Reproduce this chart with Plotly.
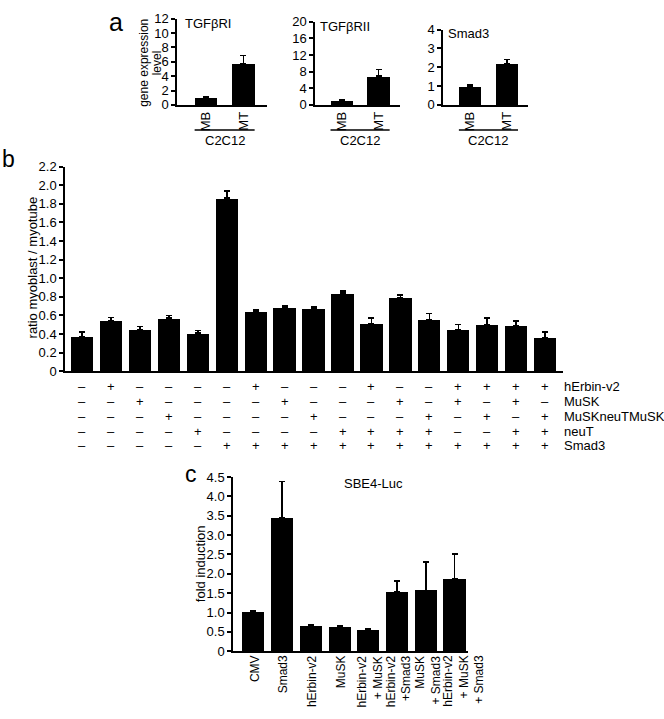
import plotly.graph_objects as go

W, H = 664, 719
FONT = "Arial, Liberation Sans, Helvetica, sans-serif"

# ---------------- data ----------------
# panel a
a_cats = ["MB", "MT"]
a1_vals = [1.0, 5.75]
a1_err = [0.1, 1.1]
a2_vals = [1.1, 6.9]
a2_err = [0.2, 1.6]
a3_vals = [1.0, 2.17]
a3_err = [0.05, 0.24]
a_titles = ["TGF\u03b2RI", "TGF\u03b2RII", "Smad3"]
a1_ticks = [0, 2, 4, 6, 8, 10, 12]
a2_ticks = [0, 4, 8, 12, 16, 20]
a3_ticks = [0, 1, 2, 3, 4]
a_group = "C2C12"

# panel b
b_vals = [0.37, 0.54, 0.45, 0.57, 0.41, 1.86, 0.64, 0.68, 0.67, 0.84,
          0.51, 0.79, 0.55, 0.45, 0.50, 0.49, 0.36]
b_err = [0.05, 0.04, 0.03, 0.03, 0.03, 0.08, 0.02, 0.02, 0.02, 0.02,
         0.06, 0.03, 0.07, 0.05, 0.07, 0.05, 0.06]
b_ticks = [0, 0.2, 0.4, 0.6, 0.8, 1.0, 1.2, 1.4, 1.6, 1.8, 2.0, 2.2]
b_ticktext = ["0", "0.2", "0.4", "0.6", "0.8", "1.0", "1.2", "1.4", "1.6",
              "1.8", "2.0", "2.2"]
b_rows = ["hErbin-v2", "MuSK", "MuSKneuTMuSK", "neuT", "Smad3"]
b_table = [
    [0, 1, 0, 0, 0, 0, 1, 0, 0, 0, 1, 0, 0, 1, 1, 1, 1],
    [0, 0, 1, 0, 0, 0, 0, 1, 0, 0, 0, 1, 0, 1, 0, 1, 0],
    [0, 0, 0, 1, 0, 0, 0, 0, 1, 0, 0, 0, 1, 0, 1, 0, 1],
    [0, 0, 0, 0, 1, 0, 0, 0, 0, 1, 1, 1, 1, 0, 0, 1, 1],
    [0, 0, 0, 0, 0, 1, 1, 1, 1, 1, 1, 1, 1, 1, 1, 1, 1],
]

# panel c
c_cats = ["CMV", "Smad3", "hErbin-v2", "MuSK", "hErbin-v2<br>+ MuSK",
          "hErbin-v2<br>+Smad3", "MuSK<br>+ Smad3",
          "hErbin-v2<br>+ MuSK<br>+ Smad3"]
c_vals = [1.01, 3.45, 0.66, 0.63, 0.56, 1.54, 1.57, 1.87]
c_err = [0.03, 0.93, 0.03, 0.03, 0.03, 0.28, 0.73, 0.64]
c_ticks = [0, 0.5, 1.0, 1.5, 2.0, 2.5, 3.0, 3.5, 4.0, 4.5]
c_ticktext = ["0", "0.5", "1.0", "1.5", "2.0", "2.5", "3.0", "3.5", "4.0", "4.5"]
c_title = "SBE4-Luc"


def px(x):
    return x / W


def py(y):
    return 1 - y / H


fig = go.Figure()


def bars(x, y, err, xa, ya, width):
    fig.add_trace(go.Bar(
        x=x, y=y, xaxis=xa, yaxis=ya, width=width,
        marker=dict(color="black", line=dict(width=0)),
        error_y=dict(type="data", symmetric=False, array=err,
                     arrayminus=[0] * len(err), color="black",
                     thickness=1.5, width=3),
        showlegend=False))


bars(a_cats, a1_vals, a1_err, "x", "y", 0.6)
bars(a_cats, a2_vals, a2_err, "x2", "y2", 0.6)
bars(a_cats, a3_vals, a3_err, "x3", "y3", 0.6)
b_x = list(range(len(b_vals)))
bars(b_x, b_vals, b_err, "x4", "y4", 0.77)
c_x = list(range(len(c_vals)))
bars(c_x, c_vals, c_err, "x5", "y5", 0.77)

tickfont = dict(family=FONT, size=13, color="black")


def xaxis(dom, rng, showlabels=True, angle=-90, anchor="y"):
    return dict(domain=[px(dom[0]), px(dom[1])], range=rng, anchor=anchor,
                showline=True, linecolor="black", linewidth=1.5,
                ticks="", showgrid=False, zeroline=False,
                showticklabels=showlabels, tickangle=angle,
                tickfont=tickfont, fixedrange=True)


def yaxis(dom, rng, tv, tt, anchor="x"):
    return dict(domain=[py(dom[1]), py(dom[0])], range=rng, anchor=anchor,
                showline=True, linecolor="black", linewidth=1.5,
                ticks="outside", ticklen=4, tickwidth=1.5, tickcolor="black",
                tickvals=tv, ticktext=tt, showgrid=False, zeroline=False,
                tickfont=tickfont, fixedrange=True)


annotations = []
shapes = []


def ann(text, x, y, size=13, xanchor="center", yanchor="middle",
        xref="paper", yref="paper", angle=0, align="center", borderpad=1):
    annotations.append(dict(text=text, x=x, y=y, xref=xref, yref=yref,
                            xanchor=xanchor, yanchor=yanchor, align=align,
                            textangle=angle, showarrow=False,
                            borderpad=borderpad,
                            font=dict(family=FONT, size=size, color="black")))


# panel a axes
a_specs = [
    ("x", "y", [177, 267], [12, 100], [-0.77, 1.63], a1_ticks, [0, 12], 183, 17),
    ("x2", "y2", [315, 400], [15, 100], [-0.72, 1.58], a2_ticks, [0, 20], 318, 20),
    ("x3", "y3", [443, 528], [23, 100], [-0.73, 1.57], a3_ticks, [0, 4], 446, 27),
]
layout_axes = {}
for i, (xa, ya, xd, yd, xr, tv, yr, tx, ty) in enumerate(a_specs):
    xk = "xaxis" if xa == "x" else "xaxis" + xa[1:]
    yk = "yaxis" if ya == "y" else "yaxis" + ya[1:]
    layout_axes[xk] = xaxis(xd, xr, anchor=ya)
    layout_axes[yk] = yaxis(yd, yr, tv, [str(t) for t in tv], anchor=xa)
    ann(a_titles[i], px(tx), py(ty), size=13, xanchor="left")
    # group bracket under MB / MT
    shapes.append(dict(type="line", xref=xa, yref="paper",
                       x0=-0.3, x1=len(a_cats) - 1 + 0.3,
                       y0=py(125.5), y1=py(125.5),
                       line=dict(color="black", width=1.5)))
    annotations.append(dict(text=a_group, x=(len(a_cats) - 1) / 2, y=py(136),
                            xref=xa, yref="paper", showarrow=False,
                            xanchor="center", yanchor="middle",
                            font=dict(family=FONT, size=13, color="black")))

ann("gene expression", px(144), py(57), size=12, angle=-90)
ann("level", px(156.5), py(57), size=12, angle=-90)

# panel b axes
layout_axes["xaxis4"] = xaxis([65, 563], [-0.59, 16.62], showlabels=False,
                              anchor="y4")
layout_axes["yaxis4"] = yaxis([163, 372], [0, 2.2], b_ticks, b_ticktext,
                              anchor="x4")
ann("ratio myoblast / myotube", px(32), py(266), size=13, angle=-90)

row_y = [388, 403, 418, 433.5, 448]
for r, row in enumerate(b_table):
    for i, v in enumerate(row):
        annotations.append(dict(text="+" if v else "\u2013", x=b_x[i],
                                y=py(row_y[r]), xref="x4", yref="paper",
                                showarrow=False, xanchor="center",
                                yanchor="middle",
                                font=dict(family=FONT, size=13, color="black")))
    ann(b_rows[r], px(562), py(row_y[r]), size=13, xanchor="left")

# panel c axes (category labels drawn as rotated text below each bar)
layout_axes["xaxis5"] = xaxis([233, 468], [-0.71, 7.47], showlabels=False,
                              anchor="y5")
layout_axes["yaxis5"] = yaxis([480, 658], [0, 4.5], c_ticks, c_ticktext,
                              anchor="x5")
for i, lab in enumerate(c_cats):
    n = lab.count("<br>") + 1
    shift = 1 if n == 1 else (n - 1) * 7 - 5
    annotations.append(dict(text=lab, x=c_x[i], y=py(661), xref="x5",
                            yref="paper", showarrow=False, xanchor="center",
                            yanchor="top", textangle=-90, align="right",
                            borderpad=0, xshift=shift,
                            font=dict(family=FONT, size=12, color="black")))
ann(c_title, px(373), py(487), size=13)
ann("fold induction", px(200), py(569), size=13, angle=-90)

# panel letters
ann("a", px(116), 1, size=25, yanchor="top", borderpad=0)
ann("b", px(8), py(155), size=23)
ann("c", px(191), py(477), size=23)

fig.update_layout(
    width=W, height=H, margin=dict(l=0, r=0, t=0, b=0),
    paper_bgcolor="white", plot_bgcolor="white",
    bargap=0, showlegend=False,
    font=dict(family=FONT, size=13, color="black"),
    annotations=annotations, shapes=shapes, **layout_axes)

fig.write_html(
    "out.html",
    config={"displayModeBar": False},
    post_script="document.body.style.margin='0';"
                "document.body.style.padding='0';"
                "document.documentElement.style.overflow='hidden';")
